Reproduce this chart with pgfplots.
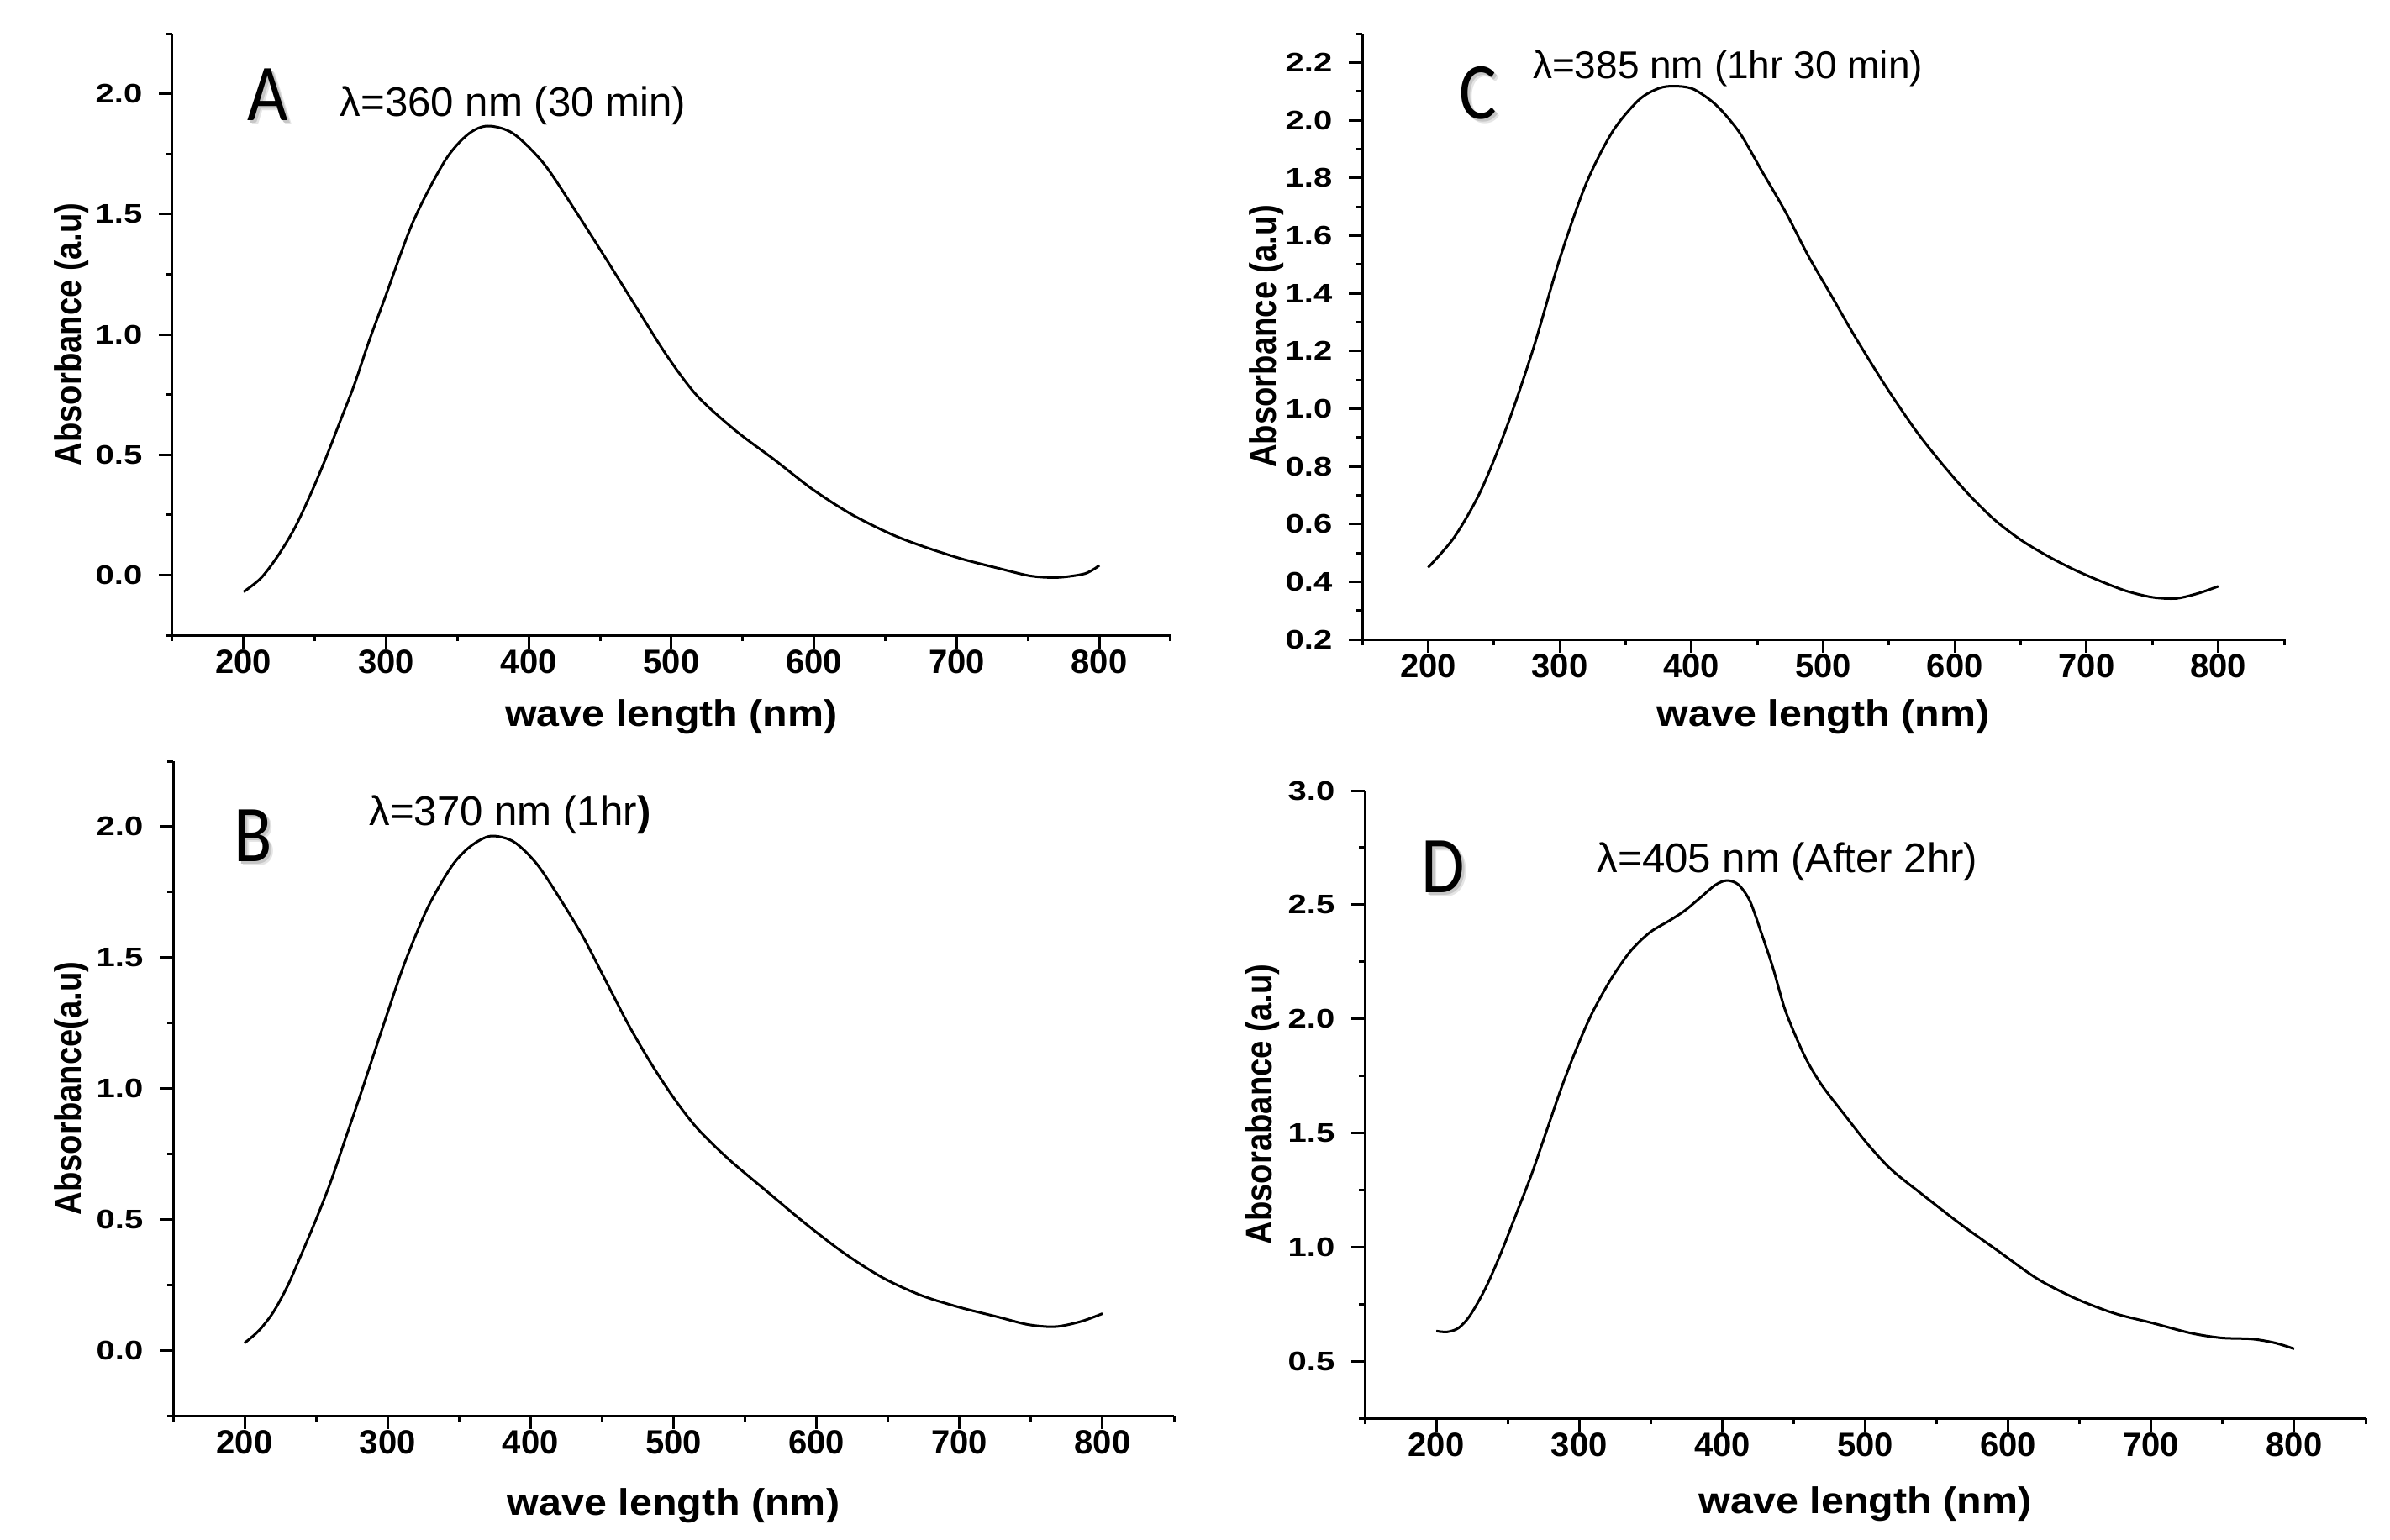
\documentclass[border=0pt]{standalone}
\usepackage{fontspec}
\setmainfont{Liberation Sans}
\newfontfamily\carlito[FakeStretch=0.87]{Carlito}
\newfontfamily\ylabfont[FakeStretch=0.87]{Liberation Sans}
\newfontfamily\xlabfont[FakeStretch=1.1]{Liberation Sans}
\newfontfamily\ytickfont[FakeStretch=1.25]{Liberation Sans}
\usepackage{pgfplots}
\pgfplotsset{compat=1.18}
\pgfplotsset{
  panel/.style={
    scale only axis,
    axis lines=left,
    axis line style={-, line width=0.75pt, black},
    tick align=outside,
    major tick length=3.9pt,
    minor tick length=1.75pt,
    tick style={black, line width=0.75pt},
    xmin=150, xmax=850,
    xtick={200,300,...,800},
    minor xtick={150,250,...,850},
    /pgf/number format/assume math mode=true,
    xticklabel style={font=\fontsize{10}{12}\selectfont\bfseries, yshift=3pt},
    yticklabel style={font=\ytickfont\fontsize{8}{10}\selectfont\bfseries, xshift=-1.5pt,
      /pgf/number format/fixed, /pgf/number format/fixed zerofill, /pgf/number format/precision=1},
    xlabel={wave length (nm)},
    xlabel style={font=\xlabfont\fontsize{11}{13}\selectfont\bfseries, anchor=center},
    ylabel style={font=\ylabfont\fontsize{11}{13}\selectfont\bfseries, anchor=center},
    clip=false,
  },
  curve/.style={black, line width=0.75pt, smooth, no markers},
}
\newcommand{\lettershadow}[3]{%
  \node[text=black!10, font=\carlito\fontsize{24}{24}\selectfont] at ({(#1+5)*0.25pt},{-(#2+5)*0.25pt}) {#3};
  \node[text=black!22, font=\carlito\fontsize{24}{24}\selectfont] at ({(#1+3)*0.25pt},{-(#2+3)*0.25pt}) {#3};
  \node[text=black, font=\carlito\fontsize{24}{24}\selectfont] at ({#1*0.25pt},{-#2*0.25pt}) {#3};
}
\begin{document}
\begin{tikzpicture}
\path[use as bounding box] (0,0) rectangle ({2844*0.25pt},{-1832*0.25pt});

% ---------------- A ----------------
\begin{axis}[panel,
  at={({205*0.25pt},{-756*0.25pt})}, anchor=south west,
  width={1188*0.25pt}, height={716*0.25pt},
  ymin=-0.25, ymax=2.25,
  ytick={0,0.5,...,2.0},
  minor ytick={-0.25,0.25,...,2.25},
  ylabel={Absorbance (a.u)},
  xlabel style={at={(axis description cs:0.5,-0.1355)}},
  ylabel style={at={(axis description cs:-0.101,0.5)}},
]
\addplot[curve] coordinates {
(200,-0.07) (212.3,-0.012) (224.2,0.081) (236,0.197) (247.9,0.348) (257.8,0.488)
(267.7,0.639) (277.6,0.79) (287.5,0.964) (299,1.15) (319,1.47) (341,1.72)
(357,1.83) (371,1.866) (389,1.835) (410.5,1.71)
(432,1.52) (453.5,1.32) (475,1.116) (497,0.91) (518,0.745) (545,0.60)
(572,0.48) (599,0.356) (626,0.253) (654,0.17) (676,0.12) (703,0.068)
(730,0.027) (752,-0.004) (771,-0.01) (790,0.006) (800,0.04)
};
\end{axis}

% ---------------- C ----------------
\begin{axis}[panel,
  at={({1621*0.25pt},{-761*0.25pt})}, anchor=south west,
  width={1097*0.25pt}, height={721*0.25pt},
  ymin=0.2, ymax=2.3,
  ytick={0.2,0.4,...,2.21},
  minor ytick={0.3,0.5,...,2.31},
  ylabel={Absorbance (a.u)},
  xlabel style={at={(axis description cs:0.5,-0.128)}},
  ylabel style={at={(axis description cs:-0.104,0.5)}},
]
\addplot[curve] coordinates {
(200,0.449) (220,0.555) (240,0.715) (260,0.94) (280,1.21) (300,1.52)
(320,1.78) (340,1.96) (360,2.07) (375,2.11) (387,2.118)
(401.7,2.107) (419,2.051) (436.6,1.956) (454,1.819) (471.5,1.681) (489,1.527)
(506.4,1.39) (523.8,1.252) (547,1.081) (570,0.926) (590,0.81) (610,0.705)
(630,0.615) (650,0.545) (670,0.49) (690,0.443) (710,0.403) (730,0.368)
(750,0.346) (768,0.342) (785,0.36) (800,0.384)
};
\end{axis}

% ---------------- B ----------------
\begin{axis}[panel,
  at={({206*0.25pt},{-1685*0.25pt})}, anchor=south west,
  width={1191*0.25pt}, height={779*0.25pt},
  ymin=-0.25, ymax=2.25,
  ytick={0,0.5,...,2.0},
  minor ytick={-0.25,0.25,...,2.25},
  ylabel={Absorbance(a.u)},
  xlabel style={at={(axis description cs:0.5,-0.137)}},
  ylabel style={at={(axis description cs:-0.1016,0.5)}},
]
\addplot[curve] coordinates {
(200,0.028) (210,0.075) (220,0.145) (230,0.245) (240,0.37) (250,0.50)
(260,0.64) (270,0.80) (280,0.96) (290,1.125) (300,1.29) (312,1.48)
(328,1.69) (345,1.85) (358,1.925) (372,1.964) (388,1.943) (404,1.86)
(420,1.73) (436.6,1.58) (452.7,1.41) (468.8,1.24)
(484.9,1.09) (501,0.957) (517,0.845) (538.5,0.73) (565,0.608) (592,0.485)
(619,0.372) (646,0.278) (673,0.21) (700,0.164) (727,0.127) (748,0.098)
(767,0.09) (785,0.11) (800,0.14)
};
\end{axis}

% ---------------- D ----------------
\begin{axis}[panel,
  at={({1624*0.25pt},{-1688*0.25pt})}, anchor=south west,
  width={1191*0.25pt}, height={747*0.25pt},
  ymin=0.25, ymax=3.0,
  ytick={0.5,1.0,...,3.0},
  minor ytick={0.25,0.75,...,2.75},
  ylabel={Absorabance (a.u)},
  xlabel style={at={(axis description cs:0.5,-0.137)}},
  ylabel style={at={(axis description cs:-0.1024,0.5)}},
]
\addplot[curve] coordinates {
(200,0.632) (207.5,0.628) (215.5,0.645) (223.6,0.70) (234.3,0.818) (245,0.97)
(255.8,1.143) (266.5,1.316) (277.2,1.51) (288,1.706) (298.7,1.879) (309.4,2.03)
(322.8,2.18) (336.3,2.30) (349.7,2.38) (363,2.43) (373.8,2.474) (384.5,2.53)
(395.3,2.587) (403.3,2.606) (411.3,2.588) (419.3,2.517) (427.3,2.377) (435.4,2.225)
(443.4,2.05) (451.5,1.922) (459.5,1.814) (470,1.706) (486,1.576) (502.4,1.446)
(518.5,1.338) (540,1.23) (566.8,1.10) (593.6,0.98) (620.4,0.861) (647,0.775)
(674,0.71) (701,0.667) (727.6,0.623) (749,0.602) (770.5,0.597) (786.6,0.58)
(800,0.554)
};
\end{axis}

% panel letters
\lettershadow{319}{113}{A}
\lettershadow{1759}{111}{C}
\lettershadow{301}{995}{B}
\lettershadow{1717}{1032}{D}

% annotations
\node[font=\fontsize{12.3}{14}\selectfont] at ({610.5*0.25pt},{-126*0.25pt}) {λ=360 nm (30 min)};
\node[font=\fontsize{11.5}{14}\selectfont] at ({2056*0.25pt},{-82*0.25pt}) {λ=385 nm (1hr 30 min)};
\node[font=\fontsize{12.3}{14}\selectfont] at ({607*0.25pt},{-970*0.25pt}) {λ=370 nm (1hr\textbf{)}};
\node[font=\fontsize{12.3}{14}\selectfont] at ({2127*0.25pt},{-1026*0.25pt}) {λ=405 nm (After 2hr)};
\end{tikzpicture}
\end{document}
